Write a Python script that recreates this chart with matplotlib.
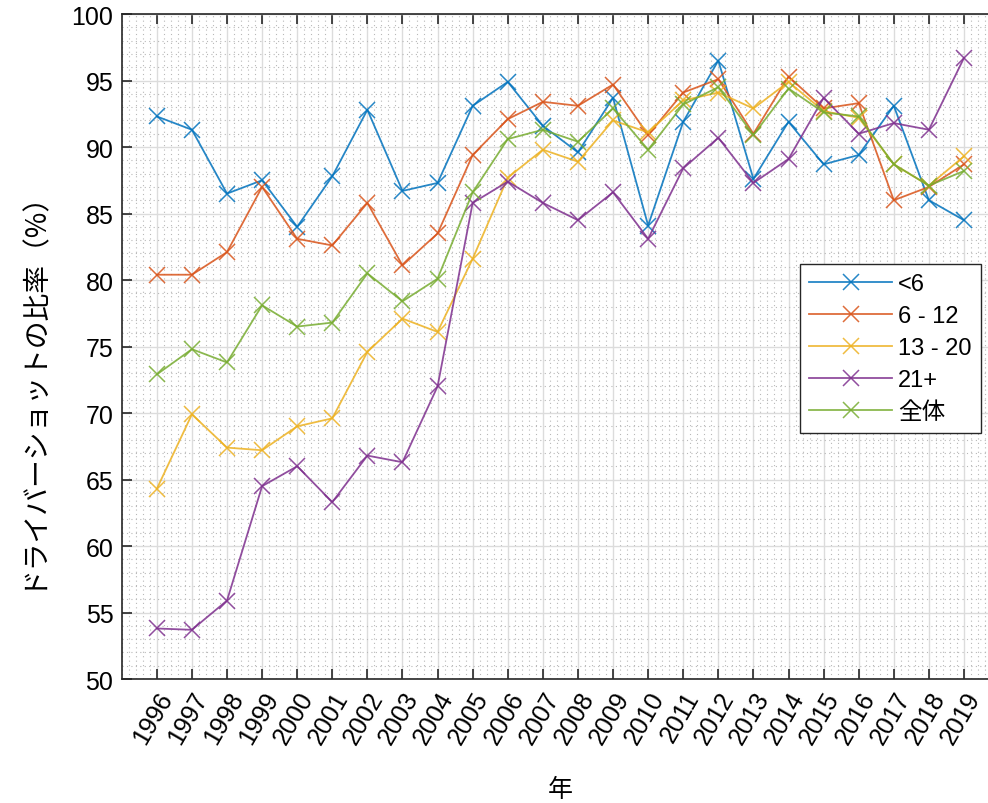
import matplotlib
matplotlib.use("Agg")
import matplotlib.pyplot as plt
from matplotlib.ticker import MultipleLocator

plt.rcParams['font.family'] = ['Liberation Sans', 'Noto Sans CJK JP']

years = list(range(1996, 2020))

under6 = [92.3, 91.3, 86.5, 87.5, 84.0, 87.8, 92.8, 86.7, 87.3, 93.1, 94.9, 91.6,
          89.6, 93.7, 84.1, 91.9, 96.5, 87.6, 91.9, 88.7, 89.4, 93.1, 86.0, 84.5]
age6_12 = [80.4, 80.4, 82.1, 87.0, 83.1, 82.6, 85.8, 81.1, 83.5, 89.4, 92.1, 93.4,
           93.1, 94.7, 90.9, 94.1, 95.1, 91.0, 95.3, 92.9, 93.3, 86.0, 87.0, 88.7]
age13_20 = [64.3, 69.9, 67.4, 67.2, 69.0, 69.6, 74.6, 77.1, 76.1, 81.6, 87.7, 89.8,
            88.9, 92.0, 91.1, 93.5, 94.1, 92.9, 94.9, 92.7, 92.2, 88.7, 87.1, 89.3]
age21plus = [53.8, 53.7, 55.9, 64.5, 66.0, 63.3, 66.8, 66.3, 72.0, 85.8, 87.4, 85.8,
             84.5, 86.6, 83.1, 88.4, 90.7, 87.3, 89.1, 93.7, 91.0, 91.8, 91.3, 96.7]
overall = [72.9, 74.8, 73.8, 78.1, 76.5, 76.8, 80.5, 78.4, 80.1, 86.6, 90.6, 91.3,
           90.4, 92.9, 89.8, 93.2, 94.5, 90.9, 94.4, 92.6, 92.3, 88.7, 87.1, 88.2]

labels = ['<6', '6 - 12', '13 - 20', '21+', '全体']
colors = ['#0072BD', '#D95319', '#EDB120', '#7E2F8E', '#77AC30']
series = [under6, age6_12, age13_20, age21plus, overall]

fig = plt.figure(figsize=(9.88, 8.04), dpi=100)
ax = fig.add_axes([0.1232, 0.1542, 0.888, 0.8271])

for vals, lab, col in zip(series, labels, colors):
    ax.plot(years, vals, color=col, lw=1.3, marker='x', markersize=12,
            markeredgewidth=1.1, label=lab, alpha=0.85)

ax.set_xlim(1995, 2020)
ax.set_ylim(50, 100)
ax.set_xticks(years)
ax.set_xticklabels([str(y) for y in years], rotation=60, ha='right',
                   rotation_mode='anchor', fontsize=18)
ax.yaxis.set_major_locator(MultipleLocator(5))
ax.yaxis.set_minor_locator(MultipleLocator(1))
ax.xaxis.set_minor_locator(MultipleLocator(0.2))
ax.tick_params(axis='y', labelsize=18)
ax.tick_params(which='major', direction='in', length=7, width=1.2,
               top=True, right=True, color='#262626')
ax.tick_params(which='minor', length=0)
ax.tick_params(axis='x', pad=6)
ax.tick_params(axis='y', pad=6)

ax.grid(which='major', color='#dcdcdc', lw=1.0)
ax.grid(which='minor', color='#b8b8b8', lw=0.8, linestyle=(0, (1, 3)))
ax.set_axisbelow(True)
for sp in ax.spines.values():
    sp.set_color('#262626')
    sp.set_linewidth(1.2)

ax.set_xlabel('年', fontsize=18, family=['Noto Sans CJK JP'], labelpad=20)
fig.text(0.031, 0.525, 'ドライバーショットの比率（%）', rotation=90, fontsize=20,
         family=['Noto Sans CJK JP'], ha='center', va='center')

leg = ax.legend(loc='upper left', bbox_to_anchor=(800 / 988, 1 - 265 / 804),
                bbox_transform=fig.transFigure, fontsize=17, frameon=True,
                fancybox=False, edgecolor='#262626', framealpha=1,
                handlelength=3.5, handletextpad=0.25, labelspacing=0.42,
                borderpad=0.4, borderaxespad=0)
leg.get_frame().set_linewidth(1.0)

fig.savefig('out.png', dpi=100)
